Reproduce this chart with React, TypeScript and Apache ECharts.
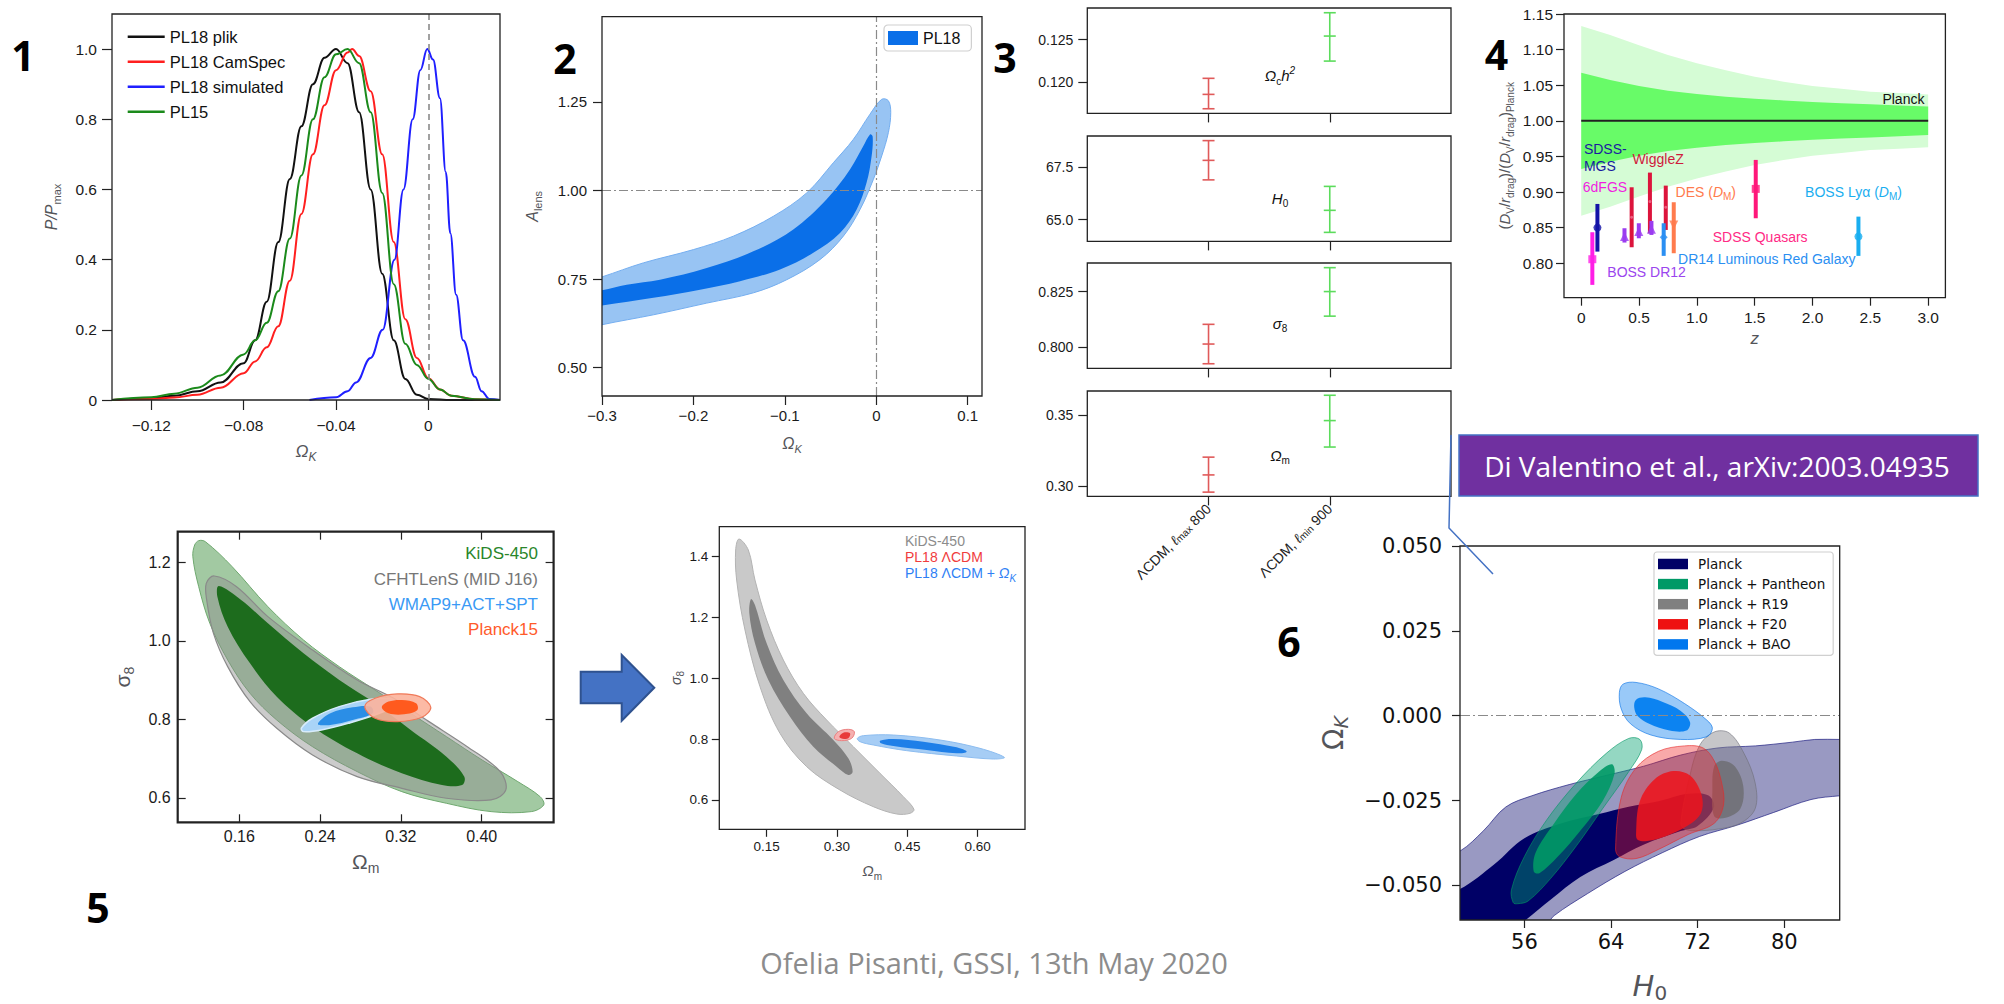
import React, { useEffect, useRef } from "react";
import * as echarts from "echarts";

const MINUS = "\u2212";
const HELV = '"Liberation Sans", Arial, Helvetica, sans-serif';
const DEJAVU = '"DejaVu Sans", "Liberation Sans", sans-serif';
const SLIDE = '"Open Sans", "Noto Sans", sans-serif';

// ---------------- Panel 1 : P/Pmax vs Omega_K ----------------
const P1_NAMES = ["PL18 plik", "PL18 CamSpec", "PL18 simulated", "PL15"];
const P1_COLORS = ["#111111", "#ff1f1f", "#1f1fff", "#1b8a1b"];
const P1_PLIK = [[-0.137,0],[-0.12,0.005],[-0.11,0.012],[-0.10,0.025],[-0.09,0.05],[-0.08,0.105],[-0.075,0.17],[-0.07,0.28],[-0.065,0.45],[-0.06,0.63],[-0.055,0.78],[-0.05,0.90],[-0.045,0.975],[-0.04,1.0],[-0.035,0.96],[-0.03,0.82],[-0.025,0.60],[-0.02,0.36],[-0.015,0.17],[-0.01,0.06],[-0.005,0.015],[0,0.003],[0.01,0],[0.031,0]];
const P1_CAMSPEC = [[-0.137,0],[-0.12,0.003],[-0.11,0.007],[-0.10,0.015],[-0.09,0.035],[-0.08,0.076],[-0.075,0.11],[-0.07,0.15],[-0.065,0.21],[-0.06,0.34],[-0.055,0.53],[-0.05,0.70],[-0.045,0.84],[-0.04,0.94],[-0.035,0.99],[-0.033,1.0],[-0.03,0.98],[-0.025,0.88],[-0.02,0.70],[-0.015,0.45],[-0.01,0.23],[-0.005,0.12],[0,0.062],[0.005,0.03],[0.01,0.012],[0.02,0.002],[0.031,0]];
const P1_SIM = [[-0.0515,0],[-0.04,0.008],[-0.035,0.025],[-0.0313,0.05],[-0.025,0.12],[-0.0198,0.2],[-0.0147,0.4],[-0.0108,0.6],[-0.0068,0.8],[-0.0035,0.94],[-0.0005,1.0],[0.002,0.97],[0.005,0.86],[0.0075,0.65],[0.0095,0.475],[0.012,0.3],[0.015,0.17],[0.0202,0.066],[0.023,0.025],[0.0264,0.003],[0.031,0]];
const P1_PL15 = [[-0.137,0],[-0.12,0.008],[-0.11,0.018],[-0.10,0.035],[-0.09,0.07],[-0.08,0.13],[-0.075,0.17],[-0.07,0.22],[-0.065,0.31],[-0.06,0.46],[-0.055,0.64],[-0.05,0.80],[-0.045,0.92],[-0.04,0.985],[-0.035,1.0],[-0.03,0.96],[-0.025,0.82],[-0.02,0.59],[-0.015,0.33],[-0.01,0.16],[-0.005,0.10],[0,0.06],[0.005,0.03],[0.01,0.012],[0.02,0.002],[0.031,0]];
const P1_XTICKS = [-0.12, -0.08, -0.04, 0];
const P1_YTICKS = [0, 0.2, 0.4, 0.6, 0.8, 1.0];

// ---------------- Panel 2 : A_lens vs Omega_K ----------------
const P2_OUTER = [[-0.34,0.725],[-0.3,0.756],[-0.2548,0.7955],[-0.2,0.833],[-0.1563,0.871],[-0.1126,0.927],[-0.0761,0.993],[-0.047,1.078],[-0.0251,1.144],[-0.0069,1.215],[0.0059,1.257],[0.0132,1.253],[0.0158,1.22],[0.0132,1.163],[0.0059,1.097],[-0.0032,1.031],[-0.0178,0.946],[-0.036,0.871],[-0.0615,0.805],[-0.098,0.748],[-0.1345,0.711],[-0.1855,0.682],[-0.2438,0.649],[-0.3,0.621],[-0.34,0.595]];
const P2_INNER = [[-0.34,0.70],[-0.3,0.718],[-0.273,0.734],[-0.2366,0.748],[-0.1855,0.781],[-0.1345,0.828],[-0.0908,0.890],[-0.0543,0.975],[-0.0288,1.059],[-0.0142,1.125],[-0.0069,1.158],[-0.004,1.152],[-0.0051,1.097],[-0.0106,1.022],[-0.0215,0.946],[-0.0397,0.880],[-0.0689,0.824],[-0.1053,0.777],[-0.149,0.744],[-0.1928,0.720],[-0.2438,0.697],[-0.3,0.675],[-0.34,0.66]];
const P2_XTICKS = [-0.3, -0.2, -0.1, 0, 0.1];
const P2_YTICKS = [0.5, 0.75, 1.0, 1.25];

// ---------------- Panel 3 : error bars (x, low, centre, high) ----------------
const P3_X = [1, 2];
const P3_COLORS = ["#e05a5a", "#5cdc5c"];
const P3_OMCH2 = [[1, 0.11682, 0.11852, 0.12042], [2, 0.12246, 0.12542, 0.12818]];
const P3_H0 = [[1, 66.89, 67.82, 68.76], [2, 64.39, 65.44, 66.58]];
const P3_S8 = [[1, 0.7924, 0.8013, 0.8102], [2, 0.8139, 0.825, 0.8358]];
const P3_OMM = [[1, 0.2957, 0.3078, 0.3203], [2, 0.3274, 0.346, 0.3638]];
const P3_YT1 = [0.12, 0.125];
const P3_YT2 = [65.0, 67.5];
const P3_YT3 = [0.8, 0.825];
const P3_YT4 = [0.3, 0.35];
const P3_XLABELS = ["{a|\u039BCDM, }{i|\u2113}{s|max}{a| 800}", "{a|\u039BCDM, }{i|\u2113}{s|min}{a| 900}"];

// ---------------- Panel 4 : BAO ratio vs z ----------------
const P4_BAND_Z = [0, 0.25, 0.5, 0.75, 1.0, 1.25, 1.5, 1.75, 2.0, 2.25, 2.5, 2.75, 3.0];
const P4_OUT_UP = [1.133, 1.1205, 1.106, 1.0925, 1.081, 1.071, 1.062, 1.055, 1.049, 1.045, 1.041, 1.039, 1.037];
const P4_OUT_LO = [0.867, 0.8795, 0.894, 0.9075, 0.919, 0.929, 0.938, 0.945, 0.951, 0.955, 0.959, 0.961, 0.963];
const P4_IN_UP = [1.0677, 1.0574, 1.049, 1.0424, 1.0377, 1.034, 1.0312, 1.0287, 1.0265, 1.0248, 1.0232, 1.0216, 1.02];
const P4_IN_LO = [0.9323, 0.9426, 0.951, 0.9576, 0.9623, 0.966, 0.9688, 0.9713, 0.9735, 0.9752, 0.9768, 0.9784, 0.98];
const P4_PLANCK_LINE = [[0, 1], [3, 1]];
const P4_Z = [0.436, 0.594, 0.731, 0.096, 0.14, 0.374, 0.498, 0.607, 0.713, 0.80, 1.509, 2.397];
const P4_LO = [0.8226, 0.8422, 0.8469, 0.7698, 0.8165, 0.8292, 0.8352, 0.8399, 0.8105, 0.8142, 0.8633, 0.8105];
const P4_MID = [0.8647, 0.8867, 0.8787, 0.8058, 0.8502, 0.8376, 0.8446, 0.8479, 0.8367, 0.8540, 0.9045, 0.8376];
const P4_HI = [0.9068, 0.9274, 0.9091, 0.8437, 0.8834, 0.8493, 0.8563, 0.8596, 0.8563, 0.8858, 0.9452, 0.8656];
const P4_COLORS = ["#dc143c", "#dc143c", "#dc143c", "#ff1ee6", "#1414a8", "#9b3cf0", "#9b3cf0", "#9b3cf0", "#2b8ff2", "#ff7b4d", "#ff177a", "#19aef0"];
const P4_SYMBOLS = ["circle", "circle", "circle", "rect", "circle", "triangle", "triangle", "triangle", "diamond", "triangle", "rect", "circle"];
const P4_XTICKS = [0, 0.5, 1.0, 1.5, 2.0, 2.5, 3.0];
const P4_YTICKS = [0.8, 0.85, 0.9, 0.95, 1.0, 1.05, 1.1, 1.15];

// ---------------- Panel 5 : sigma8 vs Omega_m (KiDS) ----------------
const P5_KIDS_OUT = [[0.1198,1.2552],[0.1264,1.2526],[0.1529,1.189],[0.1883,1.0871],[0.2236,1.0022],[0.259,0.9343],[0.2944,0.8749],[0.3297,0.8156],[0.3651,0.7561],[0.4004,0.6967],[0.4358,0.6415],[0.4579,0.6032],[0.4614,0.5822],[0.4491,0.5652],[0.4093,0.5652],[0.3651,0.5864],[0.3209,0.6161],[0.2767,0.6671],[0.2325,0.7306],[0.1971,0.7984],[0.1706,0.8665],[0.1485,0.9514],[0.1308,1.0447],[0.1198,1.138],[0.114,1.2144],[0.1158,1.2441]];
const P5_CFHT_OUT = [[0.1352,1.1652],[0.1573,1.138],[0.1883,1.0617],[0.2325,0.9768],[0.2767,0.9004],[0.312,0.855],[0.3474,0.795],[0.3872,0.728],[0.4181,0.668],[0.4239,0.6204],[0.4093,0.595],[0.3651,0.5992],[0.3209,0.6246],[0.2767,0.6543],[0.2325,0.7094],[0.1971,0.7773],[0.1706,0.8452],[0.1485,0.9344],[0.1344,1.0192],[0.1277,1.1041],[0.1273,1.1465]];
const P5_KIDS_IN = [[0.1397,1.1398],[0.1618,1.1041],[0.1883,1.0447],[0.2236,0.9683],[0.259,0.9004],[0.2944,0.841],[0.3297,0.7731],[0.3651,0.7052],[0.3828,0.6543],[0.3806,0.6331],[0.3607,0.6331],[0.3209,0.6628],[0.2767,0.7138],[0.2325,0.7816],[0.1971,0.858],[0.1706,0.9429],[0.1485,1.0362],[0.1383,1.1126]];
const P5_WMAP_OUT = [[0.2214,0.7774],[0.2325,0.8029],[0.259,0.8326],[0.29,0.8512],[0.3121,0.8512],[0.3143,0.8368],[0.2988,0.8156],[0.2678,0.7901],[0.2413,0.7731],[0.2236,0.7689]];
const P5_WMAP_IN = [[0.2378,0.7884],[0.2502,0.8156],[0.2723,0.8309],[0.29,0.8326],[0.2921,0.8156],[0.2723,0.7986],[0.2502,0.7859]];
const P5_PL15_OUT = [[0.2842,0.8326],[0.2944,0.8538],[0.3165,0.8648],[0.3386,0.858],[0.3496,0.8309],[0.3408,0.8054],[0.3165,0.7944],[0.2944,0.8029]];
const P5_PL15_IN = [[0.3011,0.8309],[0.3077,0.8453],[0.321,0.8495],[0.335,0.8411],[0.3363,0.8241],[0.3231,0.813],[0.3077,0.8156]];
const P5_XTICKS = [0.16, 0.24, 0.32, 0.40];
const P5_YTICKS = [0.6, 0.8, 1.0, 1.2];

// ---------------- Panel 5b : sigma8 vs Omega_m (PL18) ----------------
const P5B_KIDS_OUT = [[0.091,1.4581],[0.1109,1.4219],[0.1251,1.3233],[0.15,1.1918],[0.1856,1.0603],[0.2282,0.9507],[0.278,0.863],[0.3349,0.7753],[0.3917,0.6877],[0.4415,0.6109],[0.4642,0.5692],[0.4557,0.5561],[0.4273,0.5539],[0.3775,0.578],[0.3064,0.6328],[0.2353,0.7096],[0.1784,0.8191],[0.1358,0.9726],[0.1038,1.1589],[0.086,1.3233],[0.0839,1.4219]];
const P5B_KIDS_IN = [[0.1166,1.2608],[0.1251,1.2411],[0.15,1.115],[0.1856,0.9945],[0.2353,0.8849],[0.2922,0.7973],[0.3242,0.737],[0.3334,0.6931],[0.3242,0.6822],[0.2993,0.7096],[0.2495,0.7753],[0.1998,0.8739],[0.1536,0.9945],[0.1251,1.115],[0.113,1.2137]];
const P5B_LCDM_OUT = [[0.2943,0.8027],[0.3029,0.8246],[0.3242,0.8323],[0.337,0.8246],[0.3313,0.8027],[0.31,0.795]];
const P5B_LCDM_IN = [[0.305,0.8082],[0.3135,0.8213],[0.3278,0.8191],[0.3242,0.8027],[0.3121,0.8016]];
const P5B_OK_OUT = [[0.3434,0.8027],[0.3562,0.8115],[0.4202,0.8136],[0.5197,0.7972],[0.605,0.7698],[0.657,0.7402],[0.6335,0.7347],[0.5553,0.7446],[0.4486,0.7622],[0.3775,0.7808],[0.349,0.7918]];
const P5B_OK_IN = [[0.3917,0.795],[0.4202,0.8005],[0.4842,0.7918],[0.5553,0.7731],[0.5766,0.7589],[0.5553,0.7534],[0.4913,0.7643],[0.4202,0.7775],[0.3939,0.7863]];
const P5B_XTICKS = [0.15, 0.30, 0.45, 0.60];
const P5B_YTICKS = [0.6, 0.8, 1.0, 1.2, 1.4];

// ---------------- Panel 6 : Omega_K vs H0 ----------------
const P6_PLANCK_OUT = [[48,-0.042],[50.05,-0.0399],[52.22,-0.0339],[54.28,-0.0269],[56.69,-0.0236],[60.13,-0.0203],[63.56,-0.0176],[67.0,-0.0149],[70.44,-0.0116],[73.88,-0.0095],[77.32,-0.0089],[80.75,-0.0078],[82.82,-0.007],[85.12,-0.007],[87,-0.0068],[87,-0.0232],[85.12,-0.0236],[82.47,-0.0247],[79.03,-0.0285],[75.6,-0.0323],[72.16,-0.0356],[68.72,-0.0404],[65.28,-0.0459],[61.84,-0.0524],[58.75,-0.0589],[57.5,-0.063],[48,-0.063]];
const P6_PLANCK_IN = [[48,-0.0527],[50.05,-0.0511],[53.25,-0.0437],[56.0,-0.0361],[59.44,-0.0317],[62.88,-0.029],[65.63,-0.0268],[68.38,-0.0252],[71.13,-0.023],[73.0,-0.0235],[73.5,-0.027],[72.0,-0.0325],[70.44,-0.034],[67.0,-0.038],[64.25,-0.0425],[61.16,-0.0475],[58.5,-0.054],[56.0,-0.0605],[55,-0.063],[48,-0.063]];
const P6_PANTHEON_OUT = [[54.97,-0.0551],[54.8,-0.0513],[56.0,-0.0415],[58.06,-0.0307],[60.81,-0.0198],[63.56,-0.0111],[65.63,-0.0067],[66.66,-0.007],[66.83,-0.01],[65.63,-0.0165],[63.22,-0.0274],[60.81,-0.0383],[58.41,-0.048],[56.34,-0.0546],[55.38,-0.0554]];
const P6_PANTHEON_IN = [[56.86,-0.0459],[57.03,-0.0404],[58.75,-0.0317],[60.81,-0.023],[62.88,-0.0165],[64.08,-0.0143],[64.32,-0.0171],[63.22,-0.0252],[61.16,-0.0339],[59.09,-0.0415],[57.38,-0.0464]];
const P6_R19_OUT = [[70.44,-0.0317],[71.13,-0.0198],[72.16,-0.0089],[73.53,-0.0048],[74.91,-0.0051],[76.28,-0.0111],[77.31,-0.0198],[77.31,-0.0274],[75.94,-0.0317],[73.88,-0.0334],[71.82,-0.0339],[70.78,-0.0334]];
const P6_R19_IN = [[73.53,-0.0149],[74.22,-0.0133],[75.43,-0.0149],[76.22,-0.0209],[75.94,-0.0274],[74.57,-0.0301],[73.53,-0.0296],[73.36,-0.022]];
const P6_F20_OUT = [[64.42,-0.0393],[64.94,-0.0241],[66.31,-0.0154],[68.38,-0.0105],[70.78,-0.0089],[72.5,-0.0095],[73.53,-0.0133],[74.22,-0.0198],[74.39,-0.0263],[73.53,-0.0317],[71.13,-0.035],[68.38,-0.0394],[66.31,-0.0421],[64.77,-0.0415]];
const P6_F20_IN = [[66.31,-0.035],[66.66,-0.0252],[68.03,-0.0187],[69.75,-0.0163],[71.3,-0.0176],[72.33,-0.023],[72.33,-0.0285],[71.13,-0.0323],[69.06,-0.0355],[67.34,-0.0369],[66.48,-0.0366]];
const P6_BAO_OUT = [[64.77,0.0068],[65.11,0.0093],[66.31,0.0098],[68.38,0.0079],[70.78,0.0036],[72.85,-0.0013],[73.36,-0.0037],[72.85,-0.0062],[70.44,-0.007],[67.69,-0.0057],[65.8,-0.0024],[64.94,0.002]];
const P6_BAO_IN = [[66.14,0.0025],[66.31,0.0047],[67.17,0.0054],[68.72,0.0041],[70.44,0.0014],[71.3,-0.0019],[70.96,-0.0044],[69.41,-0.0044],[67.52,-0.0024],[66.48,-0.0002]];
const P6_NAMES = ["Planck", "Planck + Pantheon", "Planck + R19", "Planck + F20", "Planck + BAO"];
const P6_XTICKS = [56, 64, 72, 80];
const P6_YTICKS = [-0.05, -0.025, 0, 0.025, 0.05];

// ---------------- helpers ----------------
const signed = (v: number, d: number) => (v === 0 ? "0" : (v < 0 ? MINUS : "") + Math.abs(v).toFixed(d));

function richSet(size: number, family: string, italicMain = true) {
  const sub = Math.round(size * 0.68);
  return {
    i: { fontStyle: "italic", fontSize: size, lineHeight: size + 6, fontFamily: family },
    n: { fontStyle: "normal", fontSize: size, lineHeight: size + 6, fontFamily: family },
    s: { fontSize: sub, lineHeight: sub, verticalAlign: "bottom", fontFamily: family },
    si: { fontStyle: "italic", fontSize: sub, lineHeight: sub, verticalAlign: "bottom", fontFamily: family },
    p: { fontSize: sub, lineHeight: sub, verticalAlign: "top", fontFamily: family, fontStyle: italicMain ? "italic" : "normal" },
  };
}

function grid(left: number, top: number, width: number, height: number, bw = 1.3) {
  return { left, top, width, height, show: true, borderColor: "#222", borderWidth: bw, backgroundColor: "transparent", z: 10 };
}

function vAxis(o: any) {
  return {
    type: "value",
    gridIndex: o.grid,
    position: o.pos,
    min: o.min,
    max: o.max,
    z: 10,
    axisLine: { show: false, onZero: false },
    axisTick: { show: true, inside: !!o.inside, length: o.tickLen ?? 8, customValues: o.ticks, lineStyle: { color: "#222", width: 1.2 } },
    axisLabel: {
      show: o.labels !== false,
      customValues: o.ticks,
      formatter: o.fmt,
      margin: o.margin ?? 8,
      fontSize: o.fontSize ?? 14,
      fontFamily: o.font ?? HELV,
      color: o.color ?? "#1a1a1a",
      rotate: o.rotate ?? 0,
      rich: o.rich,
    },
    splitLine: { show: false },
    name: o.name,
    nameLocation: "middle",
    nameGap: o.nameGap,
    nameTextStyle: o.nameStyle,
  };
}

// axis indices: 0 P1, 1 P2, 2-5 P3, 6 P4, 7 P5 (8 = P5 top/right tick-only), 9 P5b, 10 P6
function poly(name: string, ai: number, pts: number[][], fill: string, stroke?: string, lw = 1, legendColor?: string, smooth = 0.35) {
  return {
    type: "custom",
    name,
    xAxisIndex: ai,
    yAxisIndex: ai,
    clip: true,
    silent: true,
    itemStyle: { color: legendColor ?? fill },
    data: pts,
    renderItem: (params: any, api: any) => {
      if (params.dataIndex !== 0) return null;
      return {
        type: "polygon",
        shape: { points: pts.map((p) => api.coord(p)), smooth },
        style: { fill, stroke: stroke ?? null, lineWidth: stroke ? lw : 0 },
      };
    },
  };
}

function errSeries(ai: number, rows: number[][]) {
  return {
    type: "custom",
    xAxisIndex: ai,
    yAxisIndex: ai,
    silent: true,
    data: rows,
    encode: { x: 0, y: [1, 2, 3] },
    renderItem: (params: any, api: any) => {
      const x = api.value(0);
      const st = { stroke: P3_COLORS[params.dataIndex], lineWidth: 1.6 };
      const ps = [1, 2, 3].map((k) => api.coord([x, api.value(k)]));
      const hw = 6;
      return {
        type: "group",
        children: [
          { type: "line", shape: { x1: ps[0][0], y1: ps[0][1], x2: ps[2][0], y2: ps[2][1] }, style: st },
          ...ps.map((p) => ({ type: "line", shape: { x1: p[0] - hw, y1: p[1], x2: p[0] + hw, y2: p[1] }, style: st })),
        ],
      };
    },
  };
}

function gText(text: string, x: number, y: number, o: any = {}) {
  return {
    type: "text",
    x,
    y,
    z: 100,
    silent: true,
    style: {
      text,
      fill: o.fill ?? "#111",
      fontSize: o.fontSize ?? 14,
      fontFamily: o.font ?? HELV,
      fontWeight: o.weight ?? "normal",
      fontStyle: o.fontStyle ?? "normal",
      align: o.align ?? "left",
      verticalAlign: "middle",
      textAlign: o.align ?? "left",
      textVerticalAlign: "middle",
      rich: o.rich,
    },
  };
}

function buildOption() {
  const helvRich16 = richSet(16, HELV);
  const p3Tops = [8, 136, 263, 391];
  const p3Ranges = [[0.11627, 0.12874], [63.96, 68.98], [0.7903, 0.8379], [0.2927, 0.3668]];
  const p3Ticks = [P3_YT1, P3_YT2, P3_YT3, P3_YT4];
  const p3Dec = [3, 1, 3, 2];
  const p3Rows = [P3_OMCH2, P3_H0, P3_S8, P3_OMM];

  const grids = [
    grid(112, 14, 388, 386),
    grid(602, 16.7, 380, 379.3),
    ...p3Tops.map((t) => grid(1087.3, t, 363.7, 105.4)),
    grid(1564, 14, 381.4, 283.7),
    grid(177.7, 531.7, 375.9, 290.6, 2.2),
    grid(719.3, 526.7, 305.7, 302.6),
    grid(1460, 546, 379.7, 377.5),
  ];

  const xAxes: any[] = [
    vAxis({ grid: 0, pos: "bottom", min: -0.137, max: 0.031, ticks: P1_XTICKS, fmt: (v: number) => signed(v, 2), tickLen: 10, margin: 17, fontSize: 15.5,
      name: "{i|\u03A9}{si|K}", nameGap: 40, nameStyle: { rich: richSet(17, HELV) } }),
    vAxis({ grid: 1, pos: "bottom", min: -0.3, max: 0.1156, ticks: P2_XTICKS, fmt: (v: number) => signed(v, 1), tickLen: 9, margin: 12, fontSize: 15,
      name: "{i|\u03A9}{si|K}", nameGap: 36, nameStyle: { rich: helvRich16 } }),
    ...p3Tops.map((_, k) =>
      vAxis({ grid: 2 + k, pos: "bottom", min: 0, max: 3, ticks: P3_X, tickLen: 9, labels: k === 3, rotate: 45, margin: 10,
        fmt: (v: number) => P3_XLABELS[P3_X.indexOf(v)],
        rich: { a: { fontSize: 14, fontFamily: HELV, color: "#222" }, i: { fontSize: 14, fontStyle: "italic", fontFamily: HELV, color: "#222" }, s: { fontSize: 10, fontFamily: HELV, color: "#222", verticalAlign: "bottom", lineHeight: 10 } } })
    ),
    vAxis({ grid: 6, pos: "bottom", min: -0.149, max: 3.149, ticks: P4_XTICKS, fmt: (v: number) => (v === 0 ? "0" : v.toFixed(1)), tickLen: 8, margin: 12, fontSize: 15.5,
      name: "{i|z}", nameGap: 29, nameStyle: { rich: richSet(17, HELV) } }),
    vAxis({ grid: 7, pos: "bottom", min: 0.099, max: 0.4712, ticks: P5_XTICKS, fmt: (v: number) => v.toFixed(2), inside: true, tickLen: 8, margin: 6, fontSize: 16,
      name: "{n|\u03A9}{s|m}", nameGap: 26, nameStyle: { rich: richSet(21, HELV) } }),
    vAxis({ grid: 7, pos: "top", min: 0.099, max: 0.4712, ticks: P5_XTICKS, inside: true, tickLen: 8, labels: false }),
    vAxis({ grid: 8, pos: "bottom", min: 0.049, max: 0.701, ticks: P5B_XTICKS, fmt: (v: number) => v.toFixed(2), tickLen: 7.5, margin: 10, fontSize: 13.5,
      name: "{i|\u03A9}{s|m}", nameGap: 31, nameStyle: { rich: richSet(15, HELV) } }),
    vAxis({ grid: 9, pos: "bottom", min: 50.05, max: 85.12, ticks: P6_XTICKS, fmt: (v: number) => String(v), tickLen: 8, margin: 11, fontSize: 21, font: DEJAVU, color: "#111",
      name: "{i|H}{s|0}", nameGap: 48, nameStyle: { rich: richSet(29, DEJAVU) } }),
  ];

  const yAxes: any[] = [
    vAxis({ grid: 0, pos: "left", min: 0, max: 1.1, ticks: P1_YTICKS, fmt: (v: number) => (v === 0 ? "0" : v.toFixed(1)), tickLen: 10, margin: 15, fontSize: 15.5,
      name: "{i|P/P}{s|max}", nameGap: 50, nameStyle: { rich: helvRich16 } }),
    vAxis({ grid: 1, pos: "left", min: 0.42, max: 1.49, ticks: P2_YTICKS, fmt: (v: number) => v.toFixed(2), tickLen: 9, margin: 15, fontSize: 15,
      name: "{i|A}{s|lens}", nameGap: 59, nameStyle: { rich: helvRich16 } }),
    ...p3Tops.map((_, k) =>
      vAxis({ grid: 2 + k, pos: "left", min: p3Ranges[k][0], max: p3Ranges[k][1], ticks: p3Ticks[k], fmt: (v: number) => v.toFixed(p3Dec[k]), tickLen: 9, margin: 14, fontSize: 14 })
    ),
    vAxis({ grid: 6, pos: "left", min: 0.7518, max: 1.15, ticks: P4_YTICKS, fmt: (v: number) => v.toFixed(2), tickLen: 8, margin: 11, fontSize: 15.5,
      name: "{n|(}{i|D}{s|V}{n|/}{i|r}{s|drag}{n|)/(}{i|D}{s|V}{n|/}{i|r}{s|drag}{n|)}{s|Planck}", nameGap: 49, nameStyle: { rich: richSet(15, HELV) } }),
    vAxis({ grid: 7, pos: "left", min: 0.538, max: 1.278, ticks: P5_YTICKS, fmt: (v: number) => v.toFixed(1), inside: true, tickLen: 8, margin: 7, fontSize: 16,
      name: "{n|\u03C3}{s|8}", nameGap: 42, nameStyle: { rich: richSet(21, HELV) } }),
    vAxis({ grid: 7, pos: "right", min: 0.538, max: 1.278, ticks: P5_YTICKS, inside: true, tickLen: 8, labels: false }),
    vAxis({ grid: 8, pos: "left", min: 0.5036, max: 1.4986, ticks: P5B_YTICKS, fmt: (v: number) => v.toFixed(1), tickLen: 7.5, margin: 11, fontSize: 13.5,
      name: "{i|\u03C3}{s|8}", nameGap: 32, nameStyle: { rich: richSet(14, HELV) } }),
    vAxis({ grid: 9, pos: "left", min: -0.0602, max: 0.05, ticks: P6_YTICKS, fmt: (v: number) => (v === 0 ? "0.000" : signed(v, 3)), tickLen: 8, margin: 18, fontSize: 21, font: DEJAVU, color: "#111",
      name: "{n|\u03A9}{si|K}", nameGap: 110, nameStyle: { rich: richSet(28, DEJAVU) } }),
  ];

  const series: any[] = [];

  // Panel 1
  [P1_PLIK, P1_CAMSPEC, P1_SIM, P1_PL15].forEach((d, i) => {
    series.push({
      type: "line", name: P1_NAMES[i], xAxisIndex: 0, yAxisIndex: 0, data: d, smooth: 0.4, smoothMonotone: "x",
      symbol: "none", clip: true, silent: true, z: 3,
      lineStyle: { color: P1_COLORS[i], width: 2 }, itemStyle: { color: P1_COLORS[i] },
      markLine: i === 0 ? { silent: true, symbol: "none", label: { show: false }, lineStyle: { color: "#8a8a8a", type: [6, 4], width: 1.6 }, data: [{ xAxis: 0 }] } : undefined,
    });
  });

  // Panel 2
  series.push(poly("PL18 95%", 1, P2_OUTER, "#98c4f3", "#74aef0", 1));
  series.push(poly("PL18", 1, P2_INNER, "#0a6fe8", undefined, 0, "#0a6fe8"));
  series.push({
    type: "line", xAxisIndex: 1, yAxisIndex: 1, data: [[-0.3, 1.0]], symbol: "none", silent: true,
    markLine: { silent: true, symbol: "none", label: { show: false }, lineStyle: { color: "#8a8a8a", type: [9, 3, 2, 3], width: 1.2 }, data: [{ xAxis: 0 }, { yAxis: 1.0 }] },
  });

  // Panel 3
  p3Rows.forEach((rows, k) => series.push(errSeries(2 + k, rows)));

  // Panel 4
  const outerBand = P4_BAND_Z.map((z, i) => [z, P4_OUT_UP[i]]).concat(P4_BAND_Z.map((z, i) => [z, P4_OUT_LO[i]]).reverse());
  const innerBand = P4_BAND_Z.map((z, i) => [z, P4_IN_UP[i]]).concat(P4_BAND_Z.map((z, i) => [z, P4_IN_LO[i]]).reverse());
  series.push(poly("Planck 2s", 6, outerBand, "#d5fcd5", undefined, 0, undefined, 0));
  series.push(poly("Planck 1s", 6, innerBand, "#68fb68", undefined, 0, undefined, 0));
  series.push({ type: "line", xAxisIndex: 6, yAxisIndex: 6, data: P4_PLANCK_LINE, symbol: "none", silent: true, lineStyle: { color: "#222", width: 2 } });
  series.push({
    type: "custom", xAxisIndex: 6, yAxisIndex: 6, silent: true,
    data: P4_Z.map((z, i) => [z, P4_LO[i], P4_MID[i], P4_HI[i]]),
    encode: { x: 0, y: [1, 2, 3] },
    renderItem: (params: any, api: any) => {
      const a = api.coord([api.value(0), api.value(1)]);
      const b = api.coord([api.value(0), api.value(3)]);
      return { type: "line", shape: { x1: a[0], y1: a[1], x2: b[0], y2: b[1] }, style: { stroke: P4_COLORS[params.dataIndex], lineWidth: 4 } };
    },
  });
  series.push({
    type: "scatter", xAxisIndex: 6, yAxisIndex: 6, silent: true,
    data: P4_Z.map((z, i) => ({
      value: [z, P4_MID[i]],
      symbol: P4_SYMBOLS[i],
      symbolSize: i < 3 ? 3 : P4_SYMBOLS[i] === "triangle" ? 9 : 8,
      symbolRotate: i === 9 ? 180 : 0,
      itemStyle: { color: i < 3 ? "#f07090" : P4_COLORS[i] },
    })),
  });

  // Panel 5 (axis index 7)
  series.push(poly("KiDS-450 95", 7, P5_KIDS_OUT, "#a2c9a2", "#6fa86f", 1));
  series.push(poly("CFHTLenS 95", 7, P5_CFHT_OUT, "rgba(140,140,140,0.45)", "#8a8a8a", 1.2));
  series.push(poly("KiDS-450 68", 7, P5_KIDS_IN, "#1d6c1d"));
  series.push(poly("WMAP 95", 7, P5_WMAP_OUT, "#a9d4f7", "#d8ecfb", 1.5));
  series.push(poly("WMAP 68", 7, P5_WMAP_IN, "#2b8ee6"));
  series.push(poly("Planck15 95", 7, P5_PL15_OUT, "rgba(252,178,155,0.9)", "#f07a5a", 1.2));
  series.push(poly("Planck15 68", 7, P5_PL15_IN, "#ff5a1e"));

  // Panel 5b (axis index 9)
  series.push(poly("KiDS b95", 9, P5B_KIDS_OUT, "#c9c9c9", "#b3b3b3", 1));
  series.push(poly("KiDS b68", 9, P5B_KIDS_IN, "#808080"));
  series.push(poly("LCDM 95", 9, P5B_LCDM_OUT, "#f5b0b0", "#ec8080", 1));
  series.push(poly("LCDM 68", 9, P5B_LCDM_IN, "#e83a3a"));
  series.push(poly("OK 95", 9, P5B_OK_OUT, "#a6cdf5", "#8dbdf0", 1));
  series.push(poly("OK 68", 9, P5B_OK_IN, "#1f7fe8"));

  // Panel 6 (axis index 10)
  series.push(poly("Planck 95", 10, P6_PLANCK_OUT, "rgba(0,0,102,0.4)", "rgba(30,30,130,0.7)", 1));
  series.push(poly(P6_NAMES[0], 10, P6_PLANCK_IN, "#000066", undefined, 0, "#000066"));
  series.push(poly("Pantheon 95", 10, P6_PANTHEON_OUT, "rgba(0,160,110,0.42)", "rgba(0,150,100,0.6)", 1));
  series.push(poly(P6_NAMES[1], 10, P6_PANTHEON_IN, "rgba(0,153,102,0.9)", undefined, 0, "#009966"));
  series.push(poly("R19 95", 10, P6_R19_OUT, "rgba(128,128,136,0.45)", "rgba(110,110,120,0.6)", 1));
  series.push(poly(P6_NAMES[2], 10, P6_R19_IN, "rgba(110,110,115,0.85)", undefined, 0, "#808080"));
  series.push(poly("F20 95", 10, P6_F20_OUT, "rgba(238,30,30,0.38)", "rgba(230,40,40,0.6)", 1));
  series.push(poly(P6_NAMES[3], 10, P6_F20_IN, "rgba(236,20,30,0.88)", undefined, 0, "#ee1111"));
  series.push(poly("BAO 95", 10, P6_BAO_OUT, "rgba(0,119,238,0.4)", "rgba(0,110,230,0.6)", 1));
  series.push(poly(P6_NAMES[4], 10, P6_BAO_IN, "rgba(0,125,240,0.92)", undefined, 0, "#0077ee"));
  series.push({
    type: "line", xAxisIndex: 10, yAxisIndex: 10, data: [[56, 0]], symbol: "none", silent: true,
    markLine: { silent: true, symbol: "none", label: { show: false }, lineStyle: { color: "#8a8a8a", type: [10, 3, 2, 3], width: 1.2 }, data: [{ yAxis: 0 }] },
  });

  const legends = [
    {
      left: 127.7, top: 28.2, orient: "vertical", padding: 0, itemWidth: 37, itemHeight: 2.6, itemGap: 8, icon: "rect", selectedMode: false,
      textStyle: { fontSize: 16.5, fontFamily: HELV, color: "#111", lineHeight: 17 }, data: P1_NAMES,
    },
    {
      left: 884, top: 25, padding: [5, 11, 5, 4], itemWidth: 30, itemHeight: 14, icon: "rect", selectedMode: false,
      borderColor: "#cfcfcf", borderWidth: 1.2, borderRadius: 4, backgroundColor: "#fff",
      textStyle: { fontSize: 16, fontFamily: HELV, color: "#111", lineHeight: 14 }, data: ["PL18"],
    },
    {
      left: 1654, top: 552, orient: "vertical", padding: [5, 8, 4, 4], itemWidth: 30, itemHeight: 10.5, itemGap: 6.1, icon: "rect", selectedMode: false,
      borderColor: "#d0d0d0", borderWidth: 1.2, borderRadius: 3, backgroundColor: "rgba(255,255,255,0.85)",
      textStyle: { fontSize: 13.5, fontFamily: DEJAVU, color: "#111", lineHeight: 14, padding: [0, 0, 0, 5] }, data: P6_NAMES,
    },
  ];

  const num = (t: string, x: number, y: number) => gText(t, x, y, { fontSize: 41, font: SLIDE, weight: "bold", fill: "#000", align: "center" });
  const r15 = richSet(15, HELV);
  const r14 = richSet(14, HELV);

  const graphic: any[] = [
    num("1", 23, 55), num("2", 565, 57.5), num("3", 1005, 56.5), num("4", 1496.5, 54), num("5", 98, 907), num("6", 1289, 641),
    // panel 3 labels
    gText("{i|\u03A9}{s|c}{i|h}{p|2}", 1280, 75.7, { align: "center", rich: r15 }),
    gText("{i|H}{s|0}", 1280, 198, { align: "center", rich: r15 }),
    gText("{i|\u03C3}{s|8}", 1280, 323, { align: "center", rich: r15 }),
    gText("{i|\u03A9}{s|m}", 1280, 455, { align: "center", rich: r15 }),
    // panel 4 labels
    gText("SDSS-", 1583.9, 149.3, { fill: "#1a1aa0", fontSize: 14 }),
    gText("MGS", 1583.9, 165.7, { fill: "#1a1aa0", fontSize: 14 }),
    gText("WiggleZ", 1632.4, 159, { fill: "#d01a3c", fontSize: 14 }),
    gText("6dFGS", 1582.8, 187.3, { fill: "#f01ee0", fontSize: 14 }),
    gText("{n|DES (}{i|D}{s|M}{n|)}", 1675.6, 191.7, { fill: "#ff7b4d", rich: r14 }),
    gText("{n|BOSS Ly\u03B1 (}{i|D}{s|M}{n|)}", 1805.1, 191.7, { fill: "#1aaef0", rich: r14 }),
    gText("SDSS Quasars", 1712.7, 236.7, { fill: "#ff2a85", fontSize: 14 }),
    gText("DR14 Luminous Red Galaxy", 1678.1, 259.3, { fill: "#2b8ff2", fontSize: 14 }),
    gText("BOSS DR12", 1607.3, 271.7, { fill: "#9b45ee", fontSize: 14 }),
    gText("Planck", 1882.4, 99.3, { fill: "#111", fontSize: 14 }),
    // panel 5 legend
    gText("KiDS-450", 538, 553.3, { fill: "#2a862a", fontSize: 17, align: "right" }),
    gText("CFHTLenS (MID J16)", 538, 579, { fill: "#777", fontSize: 17, align: "right" }),
    gText("WMAP9+ACT+SPT", 538, 604, { fill: "#3a9af5", fontSize: 17, align: "right" }),
    gText("Planck15", 538, 629, { fill: "#ff5a2a", fontSize: 17, align: "right" }),
    // panel 5b legend
    gText("KiDS-450", 905, 540.7, { fill: "#8c8c8c", fontSize: 14 }),
    gText("PL18 \u039BCDM", 905, 556.7, { fill: "#f03c3c", fontSize: 14 }),
    gText("{n|PL18 \u039BCDM + }{i|\u03A9}{si|K}", 905, 573.3, { fill: "#2f7ff5", rich: r14 }),
    // arrow
    {
      type: "polygon", z: 100, silent: true,
      shape: { points: [[580.7, 671.7], [621.7, 671.7], [621.7, 655], [654.3, 687.8], [621.7, 720.7], [621.7, 703.3], [580.7, 703.3]] },
      style: { fill: "#4472c4", stroke: "#2f528f", lineWidth: 2 },
    },
    // callout
    { type: "polyline", z: 100, silent: true, shape: { points: [[1451, 435], [1449, 528], [1493, 574]] }, style: { stroke: "#4472c4", lineWidth: 1.5, fill: null } },
    // reference box
    { type: "rect", z: 100, silent: true, shape: { x: 1459, y: 435, width: 519, height: 61 }, style: { fill: "#7030a0", stroke: "#4472c4", lineWidth: 1.5 } },
    { ...gText("Di Valentino et al., arXiv:2003.04935", 1717, 466, { fill: "#ffffff", fontSize: 28, font: SLIDE, align: "center" }), z: 101 },
    // caption
    gText("Ofelia Pisanti, GSSI, 13th May 2020", 994, 962, { fill: "#8c8c8c", fontSize: 29, font: SLIDE, align: "center" }),
  ];

  return {
    animation: false,
    backgroundColor: "#ffffff",
    grid: grids,
    xAxis: xAxes,
    yAxis: yAxes,
    legend: legends,
    series,
    graphic,
  };
}

export default function App() {
  const ref = useRef<HTMLDivElement>(null);
  useEffect(() => {
    const chart = echarts.init(ref.current as HTMLDivElement, null, { renderer: "svg" });
    chart.setOption(buildOption() as any);
    return () => chart.dispose();
  }, []);
  return <div ref={ref} style={{ position: "absolute", left: 0, top: 0, width: 2004, height: 1004, background: "#fff" }} />;
}
